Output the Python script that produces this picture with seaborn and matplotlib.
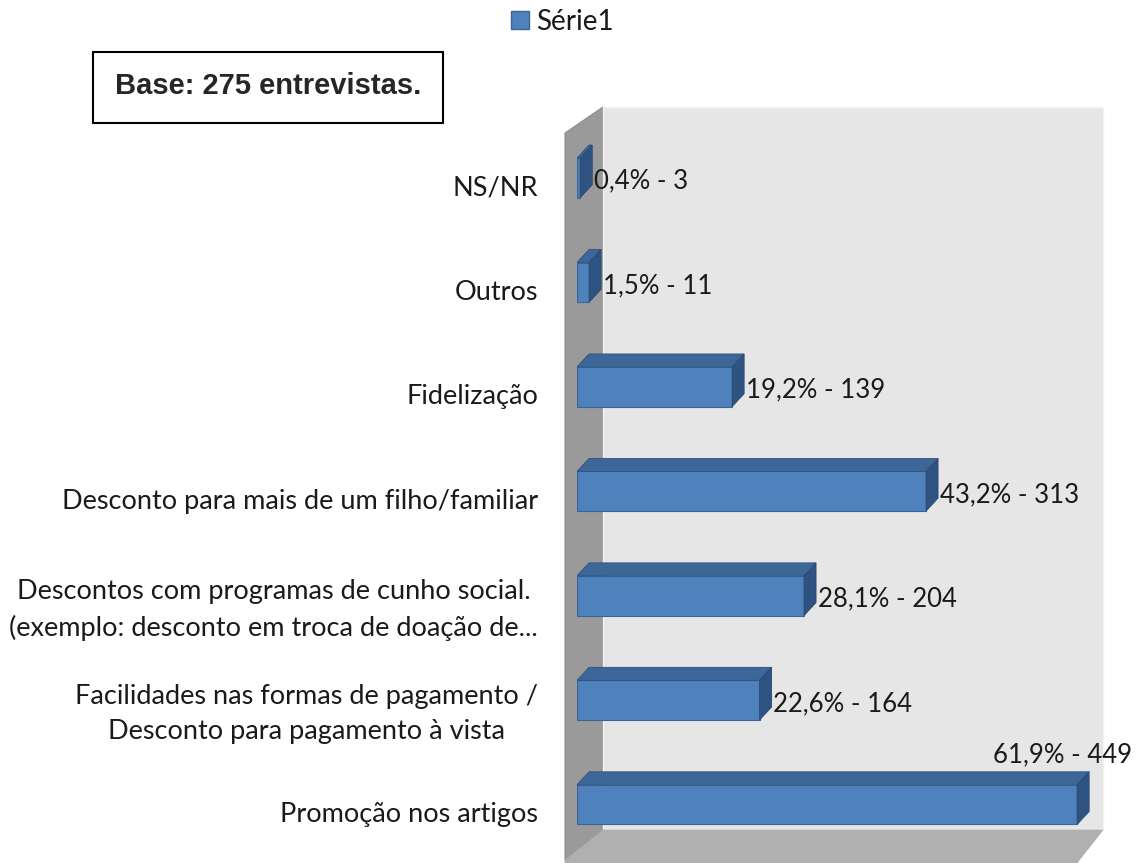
import matplotlib
matplotlib.use("Agg")
import matplotlib.pyplot as plt
from matplotlib.patches import Polygon, Rectangle
from matplotlib.lines import Line2D
from matplotlib.transforms import ScaledTranslation
import seaborn as sns
import pandas as pd

# dados
categorias = [
    "NS/NR",
    "Outros",
    "Fidelização",
    "Desconto para mais de um filho/familiar",
    "Descontos com programas de cunho social.\n(exemplo: desconto em troca de doação de...",
    "Facilidades nas formas de pagamento /\nDesconto para pagamento à vista",
    "Promoção nos artigos",
]
percentuais = [0.4, 1.5, 19.2, 43.2, 28.1, 22.6, 61.9]
contagens = [3, 11, 139, 313, 204, 164, 449]
serie = "Série1"
base_texto = "Base: 275 entrevistas."

W, H = 1139, 863
AZUL = "#4F81BD"
AZUL_TOPO = "#3D6699"
AZUL_LADO = "#2F5381"
TEXTO = "#1a1a1a"
FONTE = ["Lato", "DejaVu Sans"]

df = pd.DataFrame({"categoria": categorias, "pct": percentuais, "n": contagens})

sns.set_style("white")
plt.rcParams["font.family"] = FONTE

fig = plt.figure(figsize=(W / 100, H / 100), dpi=100)


def fp(x, y):
    # pixel (origem no topo) -> fração da figura
    return (x / W, 1 - y / H)


# paredes do gráfico 3D
fig.add_artist(Polygon([fp(565, 133), fp(603, 107), fp(603, 830), fp(565, 860)],
                       closed=True, transform=fig.transFigure, facecolor="#9a9a9a",
                       edgecolor="#8c8c8c", lw=0.8, zorder=-2))
fig.add_artist(Polygon([fp(603, 107), fp(1103, 107), fp(1103, 830), fp(603, 830)],
                       closed=True, transform=fig.transFigure, facecolor="#e6e6e6",
                       edgecolor="#f4f4f4", lw=1, zorder=-2))
fig.add_artist(Polygon([fp(565, 860), fp(603, 830), fp(1103, 830), fp(1077, 863), fp(565, 863)],
                       closed=True, transform=fig.transFigure, facecolor="#b0b0b0",
                       edgecolor="#b0b0b0", lw=0.5, zorder=-2))

ax_l, ax_r, ax_t, ax_b = 577, 1103, 110, 860
ax = fig.add_axes([ax_l / W, (H - ax_b) / H, (ax_r - ax_l) / W, (ax_b - ax_t) / H])
ax.set_facecolor("none")

sns.barplot(data=df, x="pct", y="categoria", orient="h", color=AZUL, saturation=1,
            width=0.38, edgecolor="#3a6595", linewidth=0.8, ax=ax)

xmax = 65.1
ax.set_xlim(0, xmax)
ax.set_ylim(6.53, -0.65)

px_x = (ax_r - ax_l) / xmax           # pixels por unidade em x
px_y = (ax_b - ax_t) / (6.53 + 0.65)  # pixels por unidade em y
ddx = 12 / px_x
ddy = -13 / px_y

vmax = max(percentuais)
for p, pct, n in zip(ax.patches, percentuais, contagens):
    x0, y0, w, h = p.get_x(), p.get_y(), p.get_width(), p.get_height()
    ax.add_patch(Polygon([(x0, y0), (x0 + w, y0), (x0 + w + ddx, y0 + ddy), (x0 + ddx, y0 + ddy)],
                         closed=True, facecolor=AZUL_TOPO, edgecolor="#2f5280", lw=0.6, zorder=3))
    ax.add_patch(Polygon([(x0 + w, y0), (x0 + w, y0 + h), (x0 + w + ddx, y0 + h + ddy), (x0 + w + ddx, y0 + ddy)],
                         closed=True, facecolor=AZUL_LADO, edgecolor="#2a4a73", lw=0.6, zorder=3))
    rotulo = f"{pct:.1f}".replace(".", ",") + f"% - {n}"
    if pct == vmax:
        # sem espaço à direita: rótulo acima da barra, alinhado à borda da figura
        ax.text(x0 + w + ddx + 43 / px_x, y0 + ddy - 0.04, rotulo, ha="right", va="bottom",
                fontsize=18.5, color=TEXTO, clip_on=False)
    else:
        ax.text(x0 + w + ddx + 0.2, y0 + h / 2 + 0.03, rotulo, ha="left", va="center",
                fontsize=18.5, color=TEXTO, clip_on=False)

# rótulos das categorias, um pouco abaixo do centro da barra (como no Excel 3D)
for pos, lbl in zip(ax.get_yticks(), ax.get_yticklabels()):
    txt = lbl.get_text()
    dy_px = 14 if "\n" in txt else 10
    desloc = ScaledTranslation(-39 / 100, -dy_px / 100, fig.dpi_scale_trans)
    ax.text(0, pos, txt, ha="right", va="center", multialignment="center",
            linespacing=1.5, fontsize=19.5, color=TEXTO,
            transform=ax.transData + desloc, clip_on=False)

ax.set_xlabel("")
ax.set_ylabel("")
ax.set_xticks([])
ax.set_yticks([])
sns.despine(ax=ax, left=True, bottom=True)

# legenda
leg_handle = Line2D([], [], marker="s", linestyle="none", markersize=13,
                    markerfacecolor=AZUL, markeredgecolor="#3a6595")
fig.legend([leg_handle], [serie], loc="center", bbox_to_anchor=fp(560, 22),
           frameon=False, fontsize=20, handletextpad=0.1, handlelength=1.0, borderaxespad=0,
           labelcolor=TEXTO)

# caixa "Base"
fig.add_artist(Rectangle(fp(93, 123), (443 - 93) / W, (123 - 52) / H, transform=fig.transFigure,
                         facecolor="white", edgecolor="black", lw=1.5, zorder=5))
fig.text(*fp(268, 86), base_texto, ha="center", va="center", fontsize=21,
         fontweight="bold", family=["Liberation Sans", "DejaVu Sans"], zorder=6)

fig.savefig("out.png", dpi=100)
